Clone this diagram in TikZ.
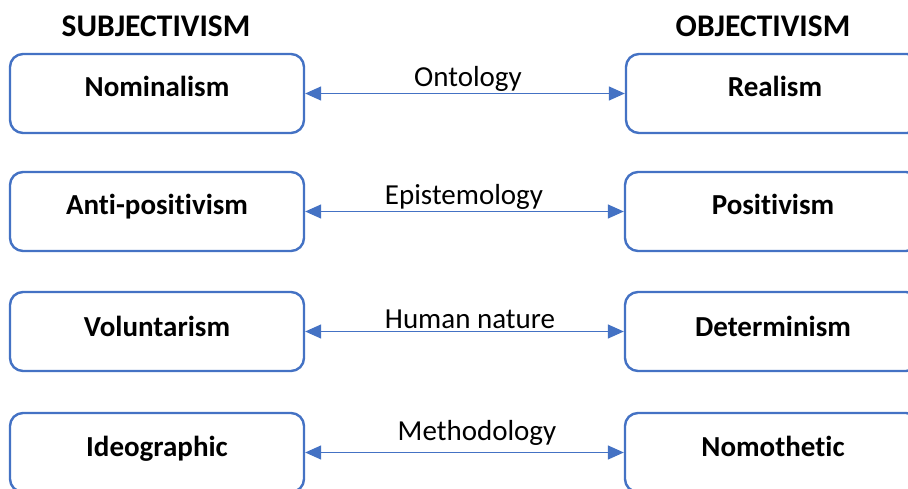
\documentclass[tikz,border=0pt]{standalone}
\usepackage{fontspec}
\setmainfont{Carlito}[Ligatures={NoCommon}]
\usetikzlibrary{arrows.meta}
\definecolor{boxblue}{HTML}{4472C4}
\tikzset{
  box/.style={draw=boxblue, line width=2.4pt, rounded corners=13pt, minimum width=294pt, minimum height=79pt, inner sep=0pt, fill=white},
  lbl/.style={anchor=base, font=\fontsize{29}{34}\selectfont\bfseries, inner sep=0pt},
  hdr/.style={anchor=base, font=\fontsize{31.5}{36}\selectfont\bfseries, inner sep=0pt},
  conn/.style={draw=boxblue, line width=1.4pt, {Triangle[length=16pt,width=14pt]}-{Triangle[length=16pt,width=14pt]}},
  arrlbl/.style={anchor=base, font=\fontsize{29}{34}\selectfont, inner sep=0pt}
}
\begin{document}
\begin{tikzpicture}[x=1pt,y=-1pt]
\clip (0,0) rectangle (908,489);
\fill[white] (0,0) rectangle (908,489);
\node[hdr] (hs) at (156,37) {SUBJECTIVISM};
\node[hdr] (ho) at (763,37) {OBJECTIVISM};
% row 1
\node[box] (L1) at (157,93.5) {};
\node[box] (R1) at (773,93.5) {};
\node[lbl] (tL1) at (157,97) {Nominalism};
\node[lbl] (tR1) at (775,97) {Realism};
\draw[conn] (L1.east) -- (R1.west);
\node[arrlbl] (a1) at (468,87) {Ontology};
% row 2
\node[box] (L2) at (157,211.5) {};
\node[box] (R2) at (772,211.5) {};
\node[lbl] (tL2) at (157,215) {Anti-positivism};
\node[lbl] (tR2) at (773,215) {Positivism};
\draw[conn] (L2.east) -- (R2.west);
\node[arrlbl] (a2) at (464,205) {Epistemology};
% row 3
\node[box] (L3) at (157,331.5) {};
\node[box] (R3) at (772,331.5) {};
\node[lbl] (tL3) at (157,336) {Voluntarism};
\node[lbl] (tR3) at (773,336) {Determinism};
\draw[conn] (L3.east) -- (R3.west);
\node[arrlbl] (a3) at (470,328) {Human nature};
% row 4
\node[box] (L4) at (157,452.5) {};
\node[box] (R4) at (772,452.5) {};
\node[lbl] (tL4) at (157,456) {Ideographic};
\node[lbl] (tR4) at (773,456) {Nomothetic};
\draw[conn] (L4.east) -- (R4.west);
\node[arrlbl] (a4) at (477,440) {Methodology};
\end{tikzpicture}
\end{document}
